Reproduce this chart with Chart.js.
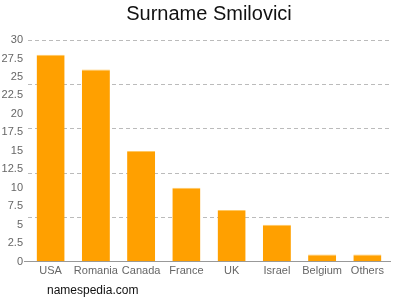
<!DOCTYPE html>
<html>
<head>
<meta charset="utf-8">
<script src="https://cdn.jsdelivr.net/npm/chart.js@4/dist/chart.umd.min.js"></script>
<style>
  html, body { margin: 0; padding: 0; background: #fff; }
  #wrap { width: 400px; height: 300px; }
</style>
</head>
<body>
<div id="wrap"><canvas id="surnameChart"></canvas></div>
<script>
// values
var countries = ['USA', 'Romania', 'Canada', 'France', 'UK', 'Israel', 'Belgium', 'Others'];
var counts = [28, 26, 15, 10, 7, 5, 1, 1];
var yMax = 30;
var tickStep = 2.5;
var gridStep = 6;

Chart.defaults.font.family = '"Liberation Sans", Arial, sans-serif';

// little watermark in the bottom left corner
var footerText = {
    id: 'footerText',
    afterDraw: function (chart) {
        var c = chart.ctx;
        c.save();
        c.font = '12px "Liberation Sans", Arial, sans-serif';
        c.fillStyle = '#111';
        c.textBaseline = 'middle';
        c.fillText('namespedia.com', 47, 291);
        c.restore();
    }
};

var ctx = document.getElementById('surnameChart').getContext('2d');
var chart = new Chart(ctx, {
    type: 'bar',
    data: {
        labels: countries,
        datasets: [{
            label: 'Surname Smilovici',
            data: counts,
            backgroundColor: '#FFA000',
            borderColor: '#FFC862',
            borderWidth: { top: 1, left: 0, right: 0, bottom: 0 },
            borderSkipped: 'start',
            barPercentage: 0.62,
            categoryPercentage: 1
        }]
    },
    plugins: [footerText],
    options: {
        responsive: true,
        maintainAspectRatio: false,
        animation: false,
        layout: { padding: { top: 0, right: 10, bottom: 19, left: 0 } },
        plugins: {
            legend: { display: false },
            tooltip: { enabled: false },
            title: {
                display: true,
                fullSize: false, // centre over the plot, not the canvas
                text: 'Surname Smilovici',
                color: '#111',
                font: { size: 20, weight: 'normal' },
                padding: { top: 2, bottom: 14 }
            }
        },
        scales: {
            x: {
                grid: { display: false, drawTicks: false },
                border: { display: true, color: '#999', width: 1 },
                ticks: { color: '#666', font: { size: 11 }, padding: 3, maxRotation: 0, autoSkip: false }
            },
            y: {
                min: 0,
                max: yMax,
                grid: {
                    drawOnChartArea: false,
                    tickLength: 4,
                    color: function (c) { return c.tick && c.tick.value === 0 ? '#999' : 'rgba(0,0,0,0)'; }
                },
                border: { display: false },
                ticks: { stepSize: tickStep, color: '#666', font: { size: 11 }, padding: 1 },
                afterFit: function (s) { s.width = 28; }
            },
            yGrid: {
                position: 'left',
                min: 0,
                max: yMax,
                ticks: { stepSize: gridStep, display: false },
                grid: { color: '#bbb', drawTicks: false, lineWidth: 1 },
                border: { display: false, dash: [4, 3] },
                afterFit: function (s) { s.width = 0; }
            }
        }
    }
});
</script>
</body>
</html>
